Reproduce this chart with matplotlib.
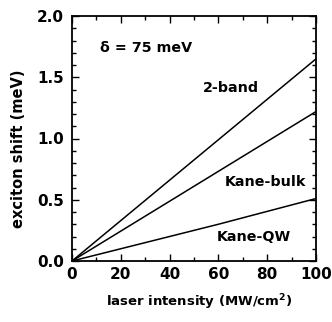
import matplotlib
matplotlib.use("Agg")
import matplotlib.pyplot as plt
from matplotlib.ticker import MultipleLocator

plt.rcParams['font.family'] = ['DejaVu Sans']
plt.rcParams['font.weight'] = 'bold'
plt.rcParams['mathtext.default'] = 'bf'

intensity = [0, 20, 40, 60, 80, 100]
two_band = [0, 0.33, 0.66, 0.99, 1.32, 1.65]
kane_bulk = [0, 0.244, 0.488, 0.732, 0.976, 1.22]
kane_qw = [0, 0.10, 0.20, 0.30, 0.405, 0.51]

fig = plt.figure(figsize=(3.32, 3.22), dpi=100)
ax = fig.add_axes([72/332, 1-261/322, 244/332, 245/322])
for ys in (two_band, kane_bulk, kane_qw):
    ax.plot(intensity, ys, color='black', lw=1.1)

ax.set_xlim(0, 100)
ax.set_ylim(0, 2.0)
ax.xaxis.set_major_locator(MultipleLocator(20))
ax.xaxis.set_minor_locator(MultipleLocator(10))
ax.yaxis.set_major_locator(MultipleLocator(0.5))
ax.yaxis.set_minor_locator(MultipleLocator(0.1))
ax.tick_params(which='both', direction='in', top=True, right=True, width=1)
ax.tick_params(which='major', length=5, labelsize=11)
ax.tick_params(axis='x', which='major', pad=4.5)
ax.tick_params(axis='y', which='major', pad=6)
ax.tick_params(which='minor', length=3)
ax.set_yticks([0, 0.5, 1.0, 1.5, 2.0])
ax.set_yticklabels(["0.0", "0.5", "1.0", "1.5", "2.0"])
for s in ax.spines.values():
    s.set_linewidth(1.3)

ax.set_xlabel('laser intensity (MW/cm$^\\mathbf{2}$)', fontsize=9.5, fontweight='bold')
ax.set_ylabel('exciton shift (meV)', fontsize=10.5, fontweight='bold')
ax.xaxis.set_label_coords(0.52, -0.13)
ax.yaxis.set_label_coords(-0.19, 0.459)

ax.text(11.5, 1.74, 'δ = 75 meV', fontsize=10.3, fontweight='bold', va='center')
ax.text(53.7, 1.41, '2-band', fontsize=10.3, fontweight='bold', va='center')
ax.text(62.7, 0.645, 'Kane-bulk', fontsize=10.3, fontweight='bold', va='center')
ax.text(59.4, 0.196, 'Kane-QW', fontsize=10.3, fontweight='bold', va='center')

fig.savefig('out.png', dpi=100)
